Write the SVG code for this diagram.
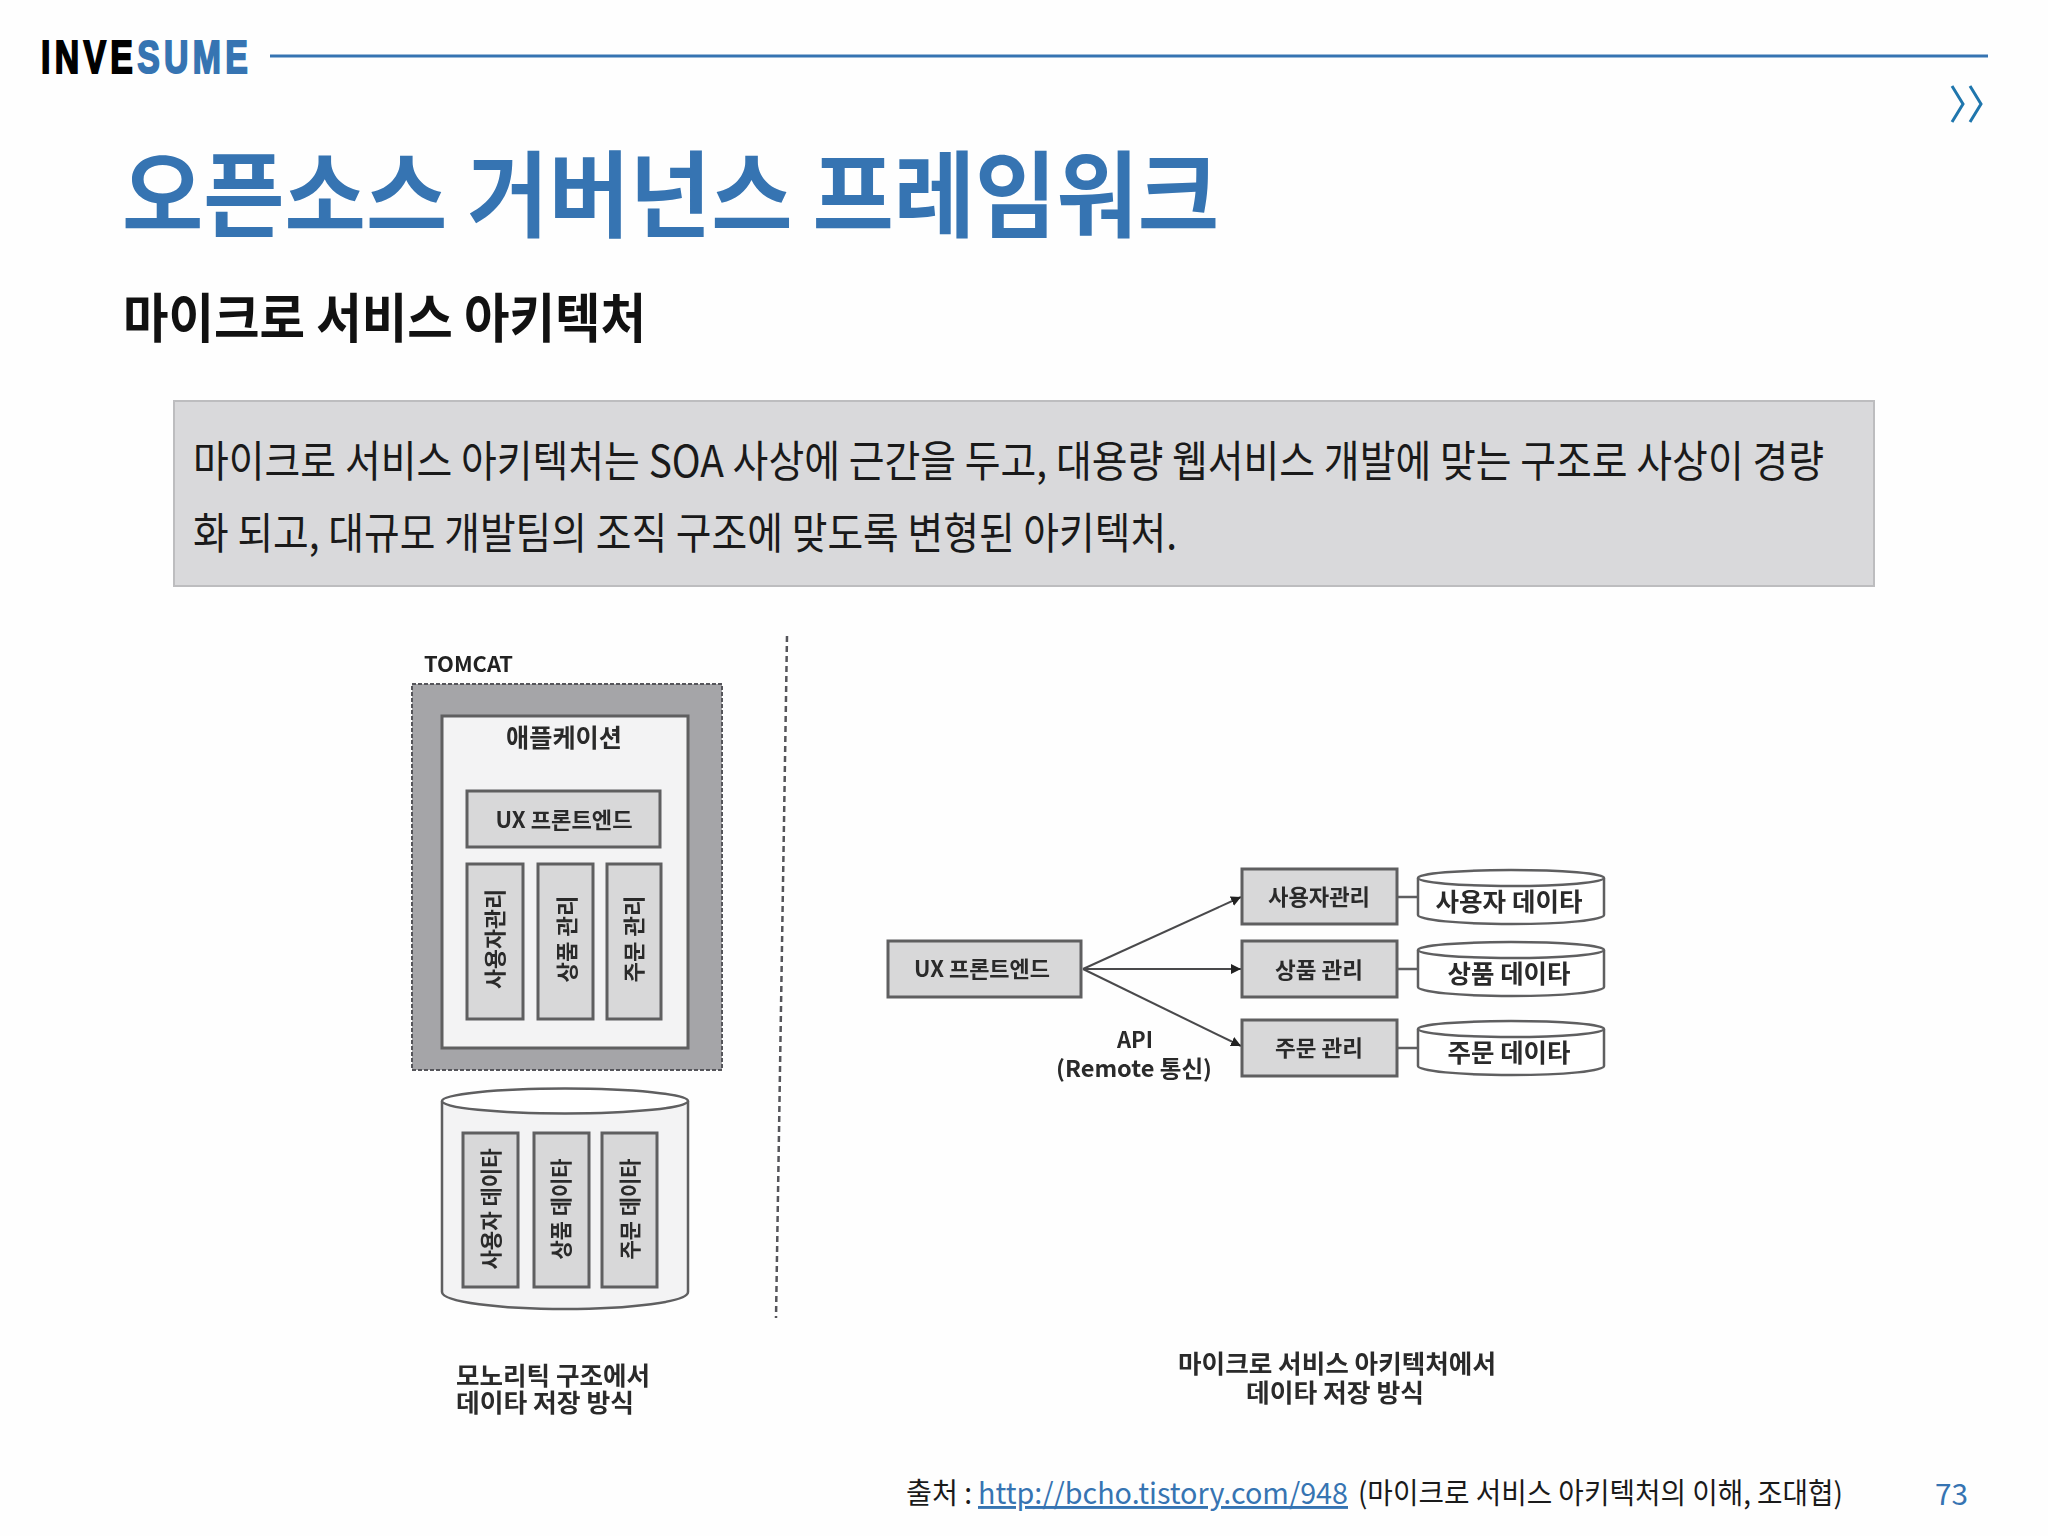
<svg xmlns="http://www.w3.org/2000/svg" width="2048" height="1536" viewBox="0 0 2048 1536">
<style>
text{font-family:"Noto Sans CJK KR","Noto Sans",sans-serif}
.d{font-weight:700;fill:#2a2a2a;text-anchor:middle}
.box{fill:#d8d8d9;stroke:#5e5e60;stroke-width:3}
.cyl{fill:#f3f3f4;stroke:#5e5e60;stroke-width:2.5}
.top{fill:#fff;stroke:#5e5e60;stroke-width:2.5}
.c{fill:none;stroke:#4a4a4c;stroke-width:2}
.s{fill:none;stroke:#5e5e60;stroke-width:2.5}
</style>
<defs>
<marker id="ah" markerUnits="userSpaceOnUse" markerWidth="12" markerHeight="12" refX="10" refY="5" orient="auto"><path d="M0 0L10 5L0 10Z" fill="#222"/></marker>
<filter id="soft" x="-2%" y="-2%" width="104%" height="104%"><feGaussianBlur stdDeviation="0.55"/></filter>
</defs>
<rect width="2048" height="1536" fill="#fefefe"/>
<g id="header">
<text transform="translate(41 73) scale(.72 1)" style="font-family:'Liberation Sans',sans-serif;letter-spacing:6px" font-weight="700" font-size="47" stroke-width="2"><tspan fill="#000" stroke="#000">INVE</tspan><tspan fill="#3674b2" stroke="#3674b2">SUME</tspan></text>
<line x1="270" y1="56" x2="1988" y2="56" stroke="#3674b2" stroke-width="3"/>
<path d="M1952 86L1963 104L1952 122M1970 86L1981 104L1970 122" fill="none" stroke="#1f76ad" stroke-width="3"/>
</g>
<text id="title" x="122" y="230" font-size="94" font-weight="700" fill="#3674b2" textLength="1097" lengthAdjust="spacingAndGlyphs">오픈소스 거버넌스 프레임워크</text>
<text id="subtitle" x="123" y="338" font-size="53" font-weight="700" fill="#111" textLength="523" lengthAdjust="spacingAndGlyphs">마이크로 서비스 아키텍처</text>
<g id="summary">
<rect x="174" y="401" width="1700" height="185" fill="#d9d9db" stroke="#bdbdbf" stroke-width="2"/>
<text x="193" y="477" font-size="43" fill="#1a1a1a" textLength="1631" lengthAdjust="spacingAndGlyphs">마이크로 서비스 아키텍처는 SOA 사상에 근간을 두고, 대용량 웹서비스 개발에 맞는 구조로 사상이 경량</text>
<text x="193" y="549" font-size="43" fill="#1a1a1a" textLength="984" lengthAdjust="spacingAndGlyphs">화 되고, 대규모 개발팀의 조직 구조에 맞도록 변형된 아키텍처.</text>
</g>
<g id="figure" filter="url(#soft)">
<g id="divider"><path d="M787 636L776 1318" fill="none" stroke="#55555a" stroke-width="2.5" stroke-dasharray="6 4"/></g>
<text x="424" y="672" font-size="21" font-weight="700" fill="#222" textLength="89" lengthAdjust="spacingAndGlyphs">TOMCAT</text>
<g id="tomcat"><rect x="412" y="684" width="310" height="386" fill="#a5a5a8" stroke="#55555a" stroke-width="2" stroke-dasharray="4 2"/></g>
<g id="app">
<rect x="442" y="716" width="246" height="332" fill="#f3f3f4" stroke="#5e5e60" stroke-width="3"/>
<text class="d" x="564" y="747" font-size="25" textLength="116" lengthAdjust="spacingAndGlyphs">애플케이션</text>
</g>
<g id="mono-ux"><rect class="box" x="467" y="791" width="193" height="56"/><text class="d" x="564" y="828" font-size="22" textLength="137" lengthAdjust="spacingAndGlyphs">UX 프론트엔드</text></g>
<g id="mono-user"><rect class="box" x="467" y="864" width="56" height="155"/><text class="d" transform="translate(503 939) rotate(-90)" font-size="22" textLength="100" lengthAdjust="spacingAndGlyphs">사용자관리</text></g>
<g id="mono-product"><rect class="box" x="538" y="864" width="55" height="155"/><text class="d" transform="translate(575 939) rotate(-90)" font-size="22" textLength="87" lengthAdjust="spacingAndGlyphs">상품 관리</text></g>
<g id="mono-order"><rect class="box" x="607" y="864" width="54" height="155"/><text class="d" transform="translate(642 939) rotate(-90)" font-size="22" textLength="87" lengthAdjust="spacingAndGlyphs">주문 관리</text></g>
<g id="mono-db">
<path class="cyl" d="M442 1101V1292C442 1302 500 1309 565 1309C630 1309 688 1302 688 1292V1101"/>
<ellipse class="top" cx="565" cy="1101" rx="123" ry="12.5"/>
</g>
<g id="mono-db-user"><rect class="box" x="463" y="1133" width="55" height="154"/><text class="d" transform="translate(499 1209) rotate(-90)" font-size="22" textLength="121" lengthAdjust="spacingAndGlyphs">사용자 데이타</text></g>
<g id="mono-db-product"><rect class="box" x="534" y="1133" width="55" height="154"/><text class="d" transform="translate(569 1209) rotate(-90)" font-size="22" textLength="101" lengthAdjust="spacingAndGlyphs">상품 데이타</text></g>
<g id="mono-db-order"><rect class="box" x="602" y="1133" width="55" height="154"/><text class="d" transform="translate(638 1209) rotate(-90)" font-size="22" textLength="101" lengthAdjust="spacingAndGlyphs">주문 데이타</text></g>
<text x="456" y="1385" font-size="25" font-weight="700" fill="#2a2a2a" textLength="194" lengthAdjust="spacingAndGlyphs">모노리틱 구조에서</text>
<text x="456" y="1412" font-size="25" font-weight="700" fill="#2a2a2a" textLength="178" lengthAdjust="spacingAndGlyphs">데이타 저장 방식</text>
<g id="connectors">
<line class="c" x1="1083" y1="969" x2="1241" y2="897" marker-end="url(#ah)"/>
<line class="c" x1="1083" y1="969" x2="1241" y2="969" marker-end="url(#ah)"/>
<line class="c" x1="1083" y1="969" x2="1241" y2="1046" marker-end="url(#ah)"/>
<line class="s" x1="1397" y1="897" x2="1418" y2="897"/>
<line class="s" x1="1397" y1="969" x2="1418" y2="969"/>
<line class="s" x1="1397" y1="1048" x2="1418" y2="1048"/>
</g>
<g id="ux"><rect class="box" x="888" y="941" width="193" height="56"/><text class="d" x="982" y="977" font-size="22" textLength="136" lengthAdjust="spacingAndGlyphs">UX 프론트엔드</text></g>
<g id="svc-user"><rect class="box" x="1242" y="869" width="155" height="55"/><text class="d" x="1319" y="905" font-size="22" textLength="102" lengthAdjust="spacingAndGlyphs">사용자관리</text></g>
<g id="svc-product"><rect class="box" x="1242" y="941" width="155" height="56"/><text class="d" x="1319" y="978" font-size="22" textLength="88" lengthAdjust="spacingAndGlyphs">상품 관리</text></g>
<g id="svc-order"><rect class="box" x="1242" y="1020" width="155" height="56"/><text class="d" x="1319" y="1056" font-size="22" textLength="88" lengthAdjust="spacingAndGlyphs">주문 관리</text></g>
<g id="db-user"><path class="cyl" style="fill:#fff" d="M1418 878V915C1418 920 1460 924 1512 924C1564 924 1604 920 1604 915V878"/><ellipse class="top" cx="1511" cy="878" rx="93" ry="8"/><text class="d" x="1509" y="911" font-size="25" textLength="147" lengthAdjust="spacingAndGlyphs">사용자 데이타</text></g>
<g id="db-product"><path class="cyl" style="fill:#fff" d="M1418 950V987C1418 992 1460 996 1512 996C1564 996 1604 992 1604 987V950"/><ellipse class="top" cx="1511" cy="950" rx="93" ry="8"/><text class="d" x="1509" y="983" font-size="25" textLength="123" lengthAdjust="spacingAndGlyphs">상품 데이타</text></g>
<g id="db-order"><path class="cyl" style="fill:#fff" d="M1418 1029V1066C1418 1071 1460 1075 1512 1075C1564 1075 1604 1071 1604 1066V1029"/><ellipse class="top" cx="1511" cy="1029" rx="93" ry="8"/><text class="d" x="1509" y="1062" font-size="25" textLength="123" lengthAdjust="spacingAndGlyphs">주문 데이타</text></g>
<text class="d" x="1135" y="1048" font-size="22">API</text>
<text class="d" x="1134" y="1077" font-size="23" textLength="156" lengthAdjust="spacingAndGlyphs">(Remote 통신)</text>
<text class="d" x="1337" y="1373" font-size="25" textLength="318" lengthAdjust="spacingAndGlyphs">마이크로 서비스 아키텍처에서</text>
<text class="d" x="1335" y="1402" font-size="25" textLength="178" lengthAdjust="spacingAndGlyphs">데이타 저장 방식</text>
</g>
<g id="source">
<text x="906" y="1504" font-size="29" fill="#1a1a1a" textLength="66" lengthAdjust="spacingAndGlyphs">출처 :</text>
<text x="978" y="1504" font-size="29" fill="#3674b2" text-decoration="underline" textLength="370" lengthAdjust="spacingAndGlyphs">http://bcho.tistory.com/948</text>
<text x="1358" y="1504" font-size="29" fill="#1a1a1a" textLength="485" lengthAdjust="spacingAndGlyphs">(마이크로 서비스 아키텍처의 이해, 조대협)</text>
<text x="1935" y="1505" font-size="29" fill="#3674b2" textLength="33" lengthAdjust="spacingAndGlyphs">73</text>
</g>
</svg>
